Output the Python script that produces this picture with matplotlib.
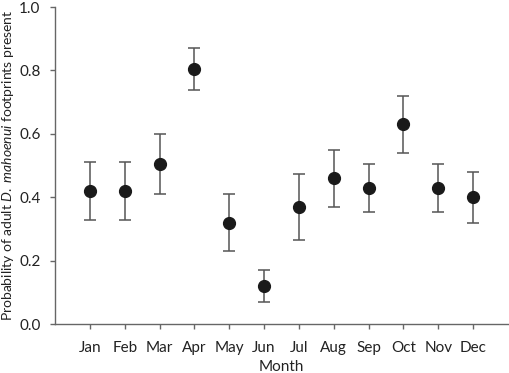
import matplotlib
matplotlib.use("Agg")
import matplotlib.pyplot as plt

months = ["Jan", "Feb", "Mar", "Apr", "May", "Jun", "Jul", "Aug", "Sep", "Oct", "Nov", "Dec"]
prob = [0.42, 0.42, 0.505, 0.805, 0.32, 0.12, 0.37, 0.46, 0.43, 0.63, 0.43, 0.40]
lower = [0.33, 0.33, 0.41, 0.74, 0.23, 0.07, 0.265, 0.37, 0.355, 0.54, 0.355, 0.32]
upper = [0.51, 0.51, 0.60, 0.87, 0.41, 0.17, 0.475, 0.55, 0.505, 0.72, 0.505, 0.48]

plt.rcParams['font.family'] = ['Lato', 'DejaVu Sans']
plt.rcParams['mathtext.fontset'] = 'custom'
plt.rcParams['mathtext.it'] = 'Lato:italic'
plt.rcParams['mathtext.rm'] = 'Lato'

fig = plt.figure(figsize=(5.10, 3.73), dpi=100)
ax = fig.add_axes([0.108, 0.131, 0.888, 0.850])

x = list(range(1, len(months) + 1))
yerr = [[p - l for p, l in zip(prob, lower)], [u - p for p, u in zip(prob, upper)]]
ax.errorbar(x, prob, yerr=yerr, fmt='o', color='#1a1a1a', markersize=8.5,
            ecolor='#555555', elinewidth=1.1, capsize=4, capthick=1.1)

ax.set_xlim(0, 13)
ax.set_ylim(0, 1.0)
ax.set_xticks(x)
ax.set_xticklabels(months)
ax.set_yticks([0.0, 0.2, 0.4, 0.6, 0.8, 1.0])
ax.set_yticklabels(["0.0", "0.2", "0.4", "0.6", "0.8", "1.0"])
for s in ['top', 'right']:
    ax.spines[s].set_visible(False)
for s in ['left', 'bottom']:
    ax.spines[s].set_color('#666666')
    ax.spines[s].set_linewidth(1.0)
ax.tick_params(direction='out', length=3.5, width=1.0, color='#666666',
               labelsize=11, labelcolor='#222222')
ax.tick_params(axis='x', pad=9)
ax.tick_params(axis='y', pad=7)
ax.set_xlabel("Month", fontsize=11, color='#222222', labelpad=3)
ax.set_ylabel(r"Probability of adult $\it{D.\ mahoenui}$ footprints present",
              fontsize=10, color='#222222', labelpad=2)

fig.savefig("out.png", dpi=100)
